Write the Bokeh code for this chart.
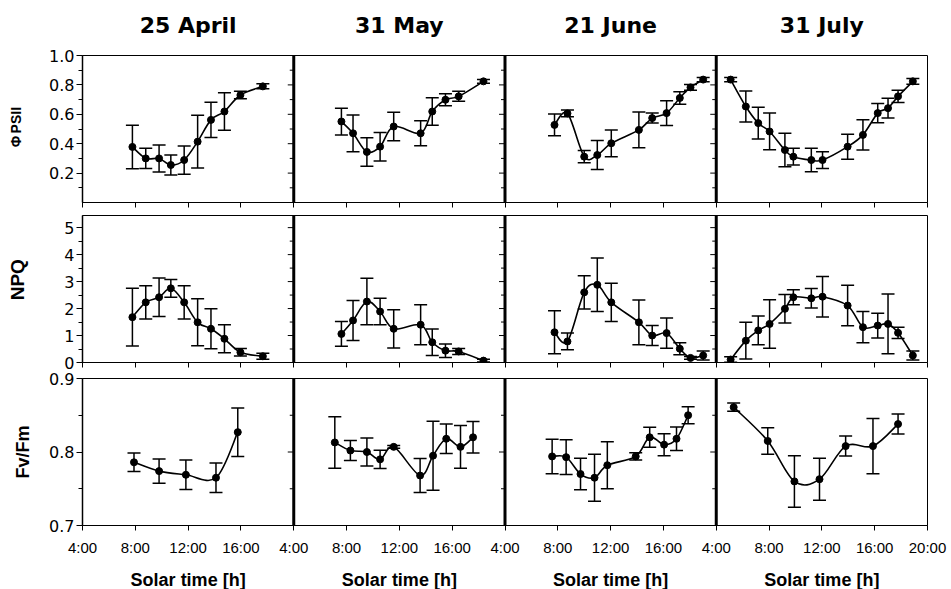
import numpy as np
from bokeh.plotting import figure
from bokeh.models import (Range1d, FixedTicker, Span, Whisker, TeeHead, LinearAxis,
                          ColumnDataSource, PrintfTickFormatter)
from bokeh.layouts import column
from bokeh.embed import file_html
from bokeh.resources import INLINE

# ---------------- data ----------------
dates = ["25 April", "31 May", "21 June", "31 July"]

# measurement times (solar time, decimal hours) for PhiPSII and NPQ
t_apr = [7.78, 8.79, 9.80, 10.69, 11.70, 12.72, 13.73, 14.75, 15.96, 17.66]
t_may = [7.61, 8.49, 9.54, 10.54, 11.57, 13.61, 14.49, 15.49, 16.49, 18.37]
t_jun = [7.75, 8.73, 10.0, 10.99, 12.05, 14.14, 15.15, 16.24, 17.24, 18.05, 19.01]
t_jul = [5.09, 6.24, 7.18, 8.04, 9.20, 9.84, 11.20, 12.05, 13.95, 15.11, 16.23, 17.01, 17.77, 18.89]

psii_apr = [0.378, 0.30, 0.30, 0.255, 0.289, 0.414, 0.562, 0.619, 0.731, 0.79]
psii_apr_sd = [0.148, 0.069, 0.092, 0.068, 0.096, 0.18, 0.12, 0.128, 0.026, 0.017]
psii_may = [0.551, 0.471, 0.344, 0.38, 0.517, 0.471, 0.619, 0.699, 0.722, 0.824]
psii_may_sd = [0.091, 0.125, 0.097, 0.097, 0.097, 0.085, 0.093, 0.04, 0.034, 0.013]
psii_jun = [0.528, 0.606, 0.312, 0.323, 0.403, 0.494, 0.574, 0.608, 0.711, 0.783, 0.836]
psii_jun_sd = [0.074, 0.023, 0.042, 0.099, 0.091, 0.122, 0.034, 0.085, 0.042, 0.019, 0.015]
psii_jul = [0.836, 0.653, 0.54, 0.483, 0.357, 0.312, 0.289, 0.289, 0.38, 0.46, 0.608, 0.642, 0.722, 0.824]
psii_jul_sd = [0.015, 0.106, 0.108, 0.125, 0.114, 0.057, 0.08, 0.057, 0.085, 0.103, 0.065, 0.068, 0.042, 0.02]

npq_apr = [1.68, 2.23, 2.42, 2.75, 2.23, 1.49, 1.25, 0.88, 0.38, 0.23]
npq_apr_sd = [1.07, 0.62, 0.71, 0.33, 0.62, 0.87, 0.74, 0.52, 0.14, 0.11]
npq_may = [1.06, 1.56, 2.26, 1.89, 1.25, 1.40, 0.75, 0.44, 0.41, 0.07]
npq_may_sd = [0.46, 0.74, 0.86, 0.49, 0.71, 0.74, 0.49, 0.25, 0.11, 0.05]
npq_jun = [1.12, 0.78, 2.60, 2.88, 2.23, 1.49, 1.00, 1.09, 0.51, 0.17, 0.26]
npq_jun_sd = [0.80, 0.31, 0.62, 0.99, 0.71, 0.83, 0.37, 0.56, 0.22, 0.05, 0.17]
npq_jul = [0.11, 0.81, 1.19, 1.43, 1.99, 2.42, 2.38, 2.44, 2.11, 1.31, 1.37, 1.43, 1.10, 0.26]
npq_jul_sd = [0.10, 0.68, 0.53, 0.90, 0.53, 0.28, 0.36, 0.75, 0.75, 0.58, 0.46, 1.11, 0.21, 0.17]

# measurement times and values for Fv/Fm
tf_apr = [7.9, 9.80, 11.83, 14.11, 15.76]
fvfm_apr = [0.786, 0.774, 0.769, 0.765, 0.827]
fvfm_apr_sd = [0.0125, 0.0166, 0.02, 0.02, 0.033]
tf_may = [7.11, 8.29, 9.54, 10.54, 11.57, 13.57, 14.55, 15.55, 16.63, 17.58]
fvfm_may = [0.813, 0.802, 0.80, 0.79, 0.807, 0.768, 0.795, 0.818, 0.807, 0.82]
fvfm_may_sd = [0.035, 0.0136, 0.019, 0.0125, 0.002, 0.023, 0.047, 0.02, 0.029, 0.0215]
tf_jun = [7.57, 8.63, 9.72, 10.78, 11.75, 13.9, 14.96, 16.05, 16.99, 17.87]
fvfm_jun = [0.794, 0.793, 0.770, 0.765, 0.782, 0.794, 0.820, 0.810, 0.818, 0.85]
fvfm_jun_sd = [0.0235, 0.0235, 0.0215, 0.032, 0.032, 0.005, 0.0136, 0.015, 0.016, 0.0115]
tf_jul = [5.32, 7.9, 9.92, 11.82, 13.8, 15.87, 17.77]
fvfm_jul = [0.861, 0.815, 0.760, 0.763, 0.808, 0.808, 0.838]
fvfm_jul_sd = [0.0057, 0.018, 0.035, 0.0285, 0.0136, 0.0375, 0.0136]

x_tick_labels = ["4:00", "8:00", "12:00", "16:00"]
last_tick_label = "20:00"
psii_ticks = [0.2, 0.4, 0.6, 0.8, 1.0]
npq_ticks = [0, 1, 2, 3, 4, 5]
fvfm_ticks = [0.7, 0.8, 0.9]
x_title = "Solar time [h]"

# ---------------- layout constants ----------------
FW, FH = 845, 147
LEFT, RIGHT = 82, 23
SPAN_H = 16.0          # each panel spans 4:00 - 20:00
PXPH = FW / (4 * SPAN_H)
TICK_FONT = "Liberation Sans"
CENTERS = [c * SPAN_H + SPAN_H / 2 for c in range(4)]


def smooth_curve(p, xs, ys):
    x = np.asarray(xs, float)
    y = np.asarray(ys, float)
    n = len(x)
    xp = np.concatenate([[x[0]], x, [x[-1]]])
    yp = np.concatenate([[y[0]], y, [y[-1]]])
    cx0 = x[:-1] + (xp[2:n + 1] - xp[0:n - 1]) / 6.0
    cy0 = y[:-1] + (yp[2:n + 1] - yp[0:n - 1]) / 6.0
    cx1 = x[1:] - (xp[3:n + 2] - xp[1:n]) / 6.0
    cy1 = y[1:] - (yp[3:n + 2] - yp[1:n]) / 6.0
    p.bezier(x0=x[:-1], y0=y[:-1], x1=x[1:], y1=y[1:], cx0=cx0, cy0=cy0,
             cx1=cx1, cy1=cy1, line_color="black", line_width=1.6)


def bare_axis(ax):
    ax.axis_line_color = None
    ax.major_tick_line_color = None
    ax.minor_tick_line_color = None
    ax.major_tick_out = 0
    ax.major_tick_in = 0
    ax.minor_tick_out = 0
    ax.minor_tick_in = 0


def make_row(y0, y1, ticks, minor, fmt, top, bottom, show_x):
    p = figure(frame_width=FW, frame_height=FH, x_range=Range1d(0, 4 * SPAN_H),
               y_range=Range1d(y0, y1), output_backend="svg", toolbar_location=None,
               min_border_left=LEFT, min_border_right=RIGHT,
               min_border_top=top, min_border_bottom=bottom,
               background_fill_color="white", border_fill_color="white",
               outline_line_color="black", outline_line_width=1)
    p.xgrid.visible = False
    p.ygrid.visible = False
    xa = p.below[0]
    ya = p.left[0]
    xt = list(range(0, int(4 * SPAN_H) + 1, 4))
    xa.ticker = FixedTicker(ticks=xt, minor_ticks=[])
    ov = {}
    for v in xt:
        ov[v] = last_tick_label if v == 4 * SPAN_H else x_tick_labels[(v % 16) // 4]
    xa.major_label_overrides = ov
    xa.major_tick_out = 5
    xa.major_tick_in = 0
    xa.minor_tick_out = 0
    xa.axis_line_width = 1
    if show_x:
        xa.major_label_text_font = TICK_FONT
        xa.major_label_text_font_size = "15px"
        xa.major_label_text_color = "black"
        xa.major_label_standoff = 8
    else:
        xa.major_label_text_font_size = "0px"
        xa.major_label_text_color = None
        xa.major_label_standoff = 0
    ya.ticker = FixedTicker(ticks=ticks, minor_ticks=minor)
    ya.formatter = PrintfTickFormatter(format=fmt)
    ya.major_tick_out = 6
    ya.major_tick_in = 0
    ya.minor_tick_out = 4
    ya.minor_tick_in = 0
    ya.axis_line_width = 1.5
    ya.major_label_standoff = 2
    ya.major_label_text_font = "DejaVu Sans"
    ya.major_label_text_font_size = "16px"
    ya.major_label_text_color = "black"
    # y ticks of the inner panels and thick separators
    for c in range(1, 4):
        xb = c * SPAN_H
        p.scatter([xb - 3 / PXPH] * len(ticks), ticks, marker="dash", size=6,
                  line_color="black", line_width=1)
        p.scatter([xb - 2 / PXPH] * len(minor), minor, marker="dash", size=4,
                  line_color="black", line_width=1)
        p.add_layout(Span(location=xb, dimension="height", line_color="black",
                          line_width=3))
    return p


def add_ylab(p, positions, texts, size, standoff, font="Liberation Sans", style="bold"):
    ax = LinearAxis(ticker=FixedTicker(ticks=positions, minor_ticks=[]))
    bare_axis(ax)
    ax.major_label_overrides = {pos: t for pos, t in zip(positions, texts)}
    ax.major_label_orientation = "vertical"
    ax.major_label_text_font = font
    ax.major_label_text_font_style = style
    ax.major_label_text_font_size = size
    ax.major_label_text_color = "black"
    ax.major_label_standoff = standoff
    p.add_layout(ax, "left")


def add_xlab(p, texts, place, size, standoff, font, style):
    ax = LinearAxis(ticker=FixedTicker(ticks=CENTERS, minor_ticks=[]))
    bare_axis(ax)
    ax.major_label_overrides = {pos: t for pos, t in zip(CENTERS, texts)}
    ax.major_label_text_font = font
    ax.major_label_text_font_style = style
    ax.major_label_text_font_size = size
    ax.major_label_text_color = "black"
    ax.major_label_standoff = standoff
    p.add_layout(ax, place)


def draw_series(p, times, vals, sds, c):
    x = [c * SPAN_H + (t - 4.0) for t in times]
    v = np.asarray(vals, float)
    s = np.asarray(sds, float)
    smooth_curve(p, x, v)
    src = ColumnDataSource(dict(x=x, y=v, lo=v - s, hi=v + s))
    p.add_layout(Whisker(source=src, base="x", upper="hi", lower="lo",
                         line_color="black", line_width=1.5,
                         upper_head=TeeHead(size=13, line_color="black", line_width=1.5),
                         lower_head=TeeHead(size=13, line_color="black", line_width=1.5)))
    p.scatter("x", "y", source=src, size=7, color="black")


# ---------------- row 1: PhiPSII ----------------
p1 = make_row(0, 1.0, psii_ticks, [0.1, 0.3, 0.5, 0.7, 0.9], "%.1f", 55, 6, False)
for c, (t, v, s) in enumerate([(t_apr, psii_apr, psii_apr_sd), (t_may, psii_may, psii_may_sd),
                                (t_jun, psii_jun, psii_jun_sd), (t_jul, psii_jul, psii_jul_sd)]):
    draw_series(p1, t, v, s, c)
add_xlab(p1, dates, "above", "22px", 18, "DejaVu Sans", "bold")
add_ylab(p1, [0.415, 0.56], ["Φ", "PSII"], "14px", 22)

# ---------------- row 2: NPQ ----------------
p2 = make_row(0, 5.45, npq_ticks, [0.5, 1.5, 2.5, 3.5, 4.5], "%d", 7, 9, False)
for c, (t, v, s) in enumerate([(t_apr, npq_apr, npq_apr_sd), (t_may, npq_may, npq_may_sd),
                                (t_jun, npq_jun, npq_jun_sd), (t_jul, npq_jul, npq_jul_sd)]):
    draw_series(p2, t, v, s, c)
add_ylab(p2, [3.07], ["NPQ"], "19px", 33)

# ---------------- row 3: Fv/Fm ----------------
p3 = make_row(0.7, 0.9, fvfm_ticks, [0.75, 0.85], "%.1f", 7, 63, True)
for c, (t, v, s) in enumerate([(tf_apr, fvfm_apr, fvfm_apr_sd), (tf_may, fvfm_may, fvfm_may_sd),
                                (tf_jun, fvfm_jun, fvfm_jun_sd), (tf_jul, fvfm_jul, fvfm_jul_sd)]):
    draw_series(p3, t, v, s, c)
add_ylab(p3, [0.8], ["Fv/Fm"], "18px", 14)
add_xlab(p3, [x_title] * 4, "below", "18px", 11, "Liberation Sans", "bold")

layout = column(p1, p2, p3, spacing=0)
open("out.html", "w").write(file_html(layout, INLINE))
